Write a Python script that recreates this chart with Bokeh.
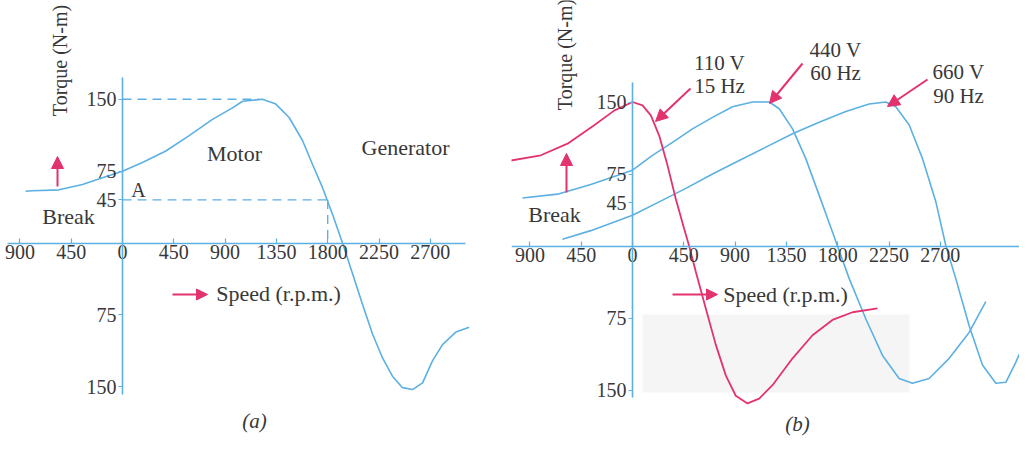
import numpy as np
from bokeh.plotting import figure
from bokeh.layouts import row
from bokeh.models import Range1d, Label, Arrow, NormalHead, FixedTicker, BoxAnnotation
from bokeh.embed import file_html
from bokeh.resources import INLINE

# ---------------- data ----------------
# Panel (a): 440 V, 60 Hz torque-speed curve
speed_a = [-850, -789, -556, -351, -175, 0, 175, 380, 585, 789, 965, 1053, 1228, 1345,
           1462, 1579, 1667, 1754, 1842, 1930, 2018, 2105, 2193, 2281, 2368, 2456, 2544,
           2632, 2719, 2807, 2924, 3041]
torque_a = [54, 54.5, 55.5, 61, 68, 75, 84, 96, 112, 129, 141, 148, 150, 145,
            131, 107, 82, 58, 30, 0, -32, -64, -95, -120, -139, -151, -153,
            -146, -123, -106, -93, -88]
peak_speed_a = 1200
peak_torque_a = 150
point_a_speed = 1800
point_a_torque = 45

# Panel (b): three supply conditions
speed_110 = [-1067, -804, -570, -336, -161, 0, 88, 161, 234, 307, 380, 453, 497, 556, 643,
             731, 819, 906, 1009, 1111, 1228, 1404, 1579, 1754, 1930, 2149]
torque_110 = [89, 94.5, 106.6, 125.7, 141, 150, 146.5, 136, 115, 84, 49, 18, 0, -27, -65,
              -103, -135, -156, -164, -159, -145, -117, -93, -77, -69, -65]

speed_440 = [-965, -658, -366, 0, 175, 351, 526, 702, 877, 1053, 1199, 1287, 1404, 1520,
             1637, 1754, 1798, 1901, 2047, 2193, 2339, 2456, 2602, 2778, 2953, 3099]
torque_440 = [50, 54, 64, 79, 94.4, 108, 122, 134, 145, 150, 150, 143, 122, 91,
              53, 14.6, 0, -34, -76, -114, -138, -143, -138, -117, -90, -58]

speed_660 = [-614, -366, 0, 234, 468, 702, 936, 1170, 1404, 1637, 1871, 2076, 2222, 2310,
             2427, 2544, 2661, 2749, 2836, 2953, 3070, 3187, 3275, 3363, 3465]
torque_660 = [7, 16, 32, 46, 60, 75, 89, 103, 117, 129, 140, 148, 150, 145,
              126, 91, 46, 0, -34, -83, -124, -143, -142, -121, -93]

speed_ticks = [-900, -450, 0, 450, 900, 1350, 1800, 2250, 2700]
speed_tick_labels = ["900", "450", "0", "450", "900", "1350", "1800", "2250", "2700"]
torque_ticks = [150, 75, 45, -75, -150]
torque_tick_labels = ["150", "75", "45", "75", "150"]

# ---------------- styling ----------------
BLUE = "#5cb0e2"
PINK = "#e3336f"
TEXT = "#383838"
FONT = "Liberation Serif"


class Panel:
    def __init__(self, left, width, height, x0, y0, sx, sy):
        self.left, self.width, self.height = left, width, height
        self.x0, self.y0, self.sx, self.sy = x0, y0, sx, sy
        top = 8
        self.p = figure(width=width, height=height, output_backend="svg",
                        toolbar_location=None, min_border=0,
                        x_range=Range1d((left - x0) / sx, (left + width - x0) / sx),
                        y_range=Range1d((y0 - (top + height)) / sy, (y0 - top) / sy),
                        outline_line_color=None)
        self.p.xgrid.visible = False
        self.p.ygrid.visible = False

    def d(self, px, py):
        return (px - self.x0) / self.sx, (self.y0 - py) / self.sy

    def axes(self, xb, yb):
        p = self.p
        for ax in (p.xaxis[0], p.yaxis[0]):
            ax.fixed_location = 0
            ax.axis_line_color = BLUE
            ax.axis_line_width = 1.6
            ax.major_tick_line_color = BLUE
            ax.major_tick_line_width = 1.2
            ax.minor_tick_line_color = None
            ax.major_label_text_font = FONT
            ax.major_label_text_font_size = "20px"
            ax.major_label_text_color = TEXT
        xa, ya = p.xaxis[0], p.yaxis[0]
        xa.ticker = FixedTicker(ticks=speed_ticks)
        xa.major_label_overrides = dict(zip(speed_ticks, speed_tick_labels))
        xa.major_tick_in = 5
        xa.major_tick_out = 0
        xa.major_label_standoff = 2
        xa.bounds = xb
        ya.ticker = FixedTicker(ticks=torque_ticks)
        ya.major_label_overrides = dict(zip(torque_ticks, torque_tick_labels))
        ya.major_tick_in = 0
        ya.major_tick_out = 4
        ya.major_label_standoff = 2
        ya.bounds = yb

    def text(self, px, py, s, size="21px", angle=0.0, style="normal"):
        x, y = self.d(px, py)
        self.p.add_layout(Label(x=x, y=y, text=s, text_align="center", text_baseline="middle",
                                text_font=FONT, text_font_size=size, text_color=TEXT,
                                angle=angle, text_font_style=style))

    def arrow(self, p0, p1, size=12):
        x0, y0 = self.d(*p0)
        x1, y1 = self.d(*p1)
        self.p.add_layout(Arrow(end=NormalHead(size=size, fill_color=PINK, line_color=PINK),
                                x_start=x0, y_start=y0, x_end=x1, y_end=y1,
                                line_color=PINK, line_width=2))


# ---------------- panel (a) ----------------
A = Panel(left=8, width=511, height=438, x0=130, y0=250.5, sx=0.114, sy=0.958)
pa = A.p
A.axes((A.d(15, 0)[0], A.d(473, 0)[0]), (A.d(0, 402)[1], A.d(0, 85)[1]))
pa.line([0, peak_speed_a], [peak_torque_a, peak_torque_a], line_color=BLUE,
        line_width=1.4, line_dash="9 6")
pa.line([0, point_a_speed], [point_a_torque, point_a_torque], line_color=BLUE,
        line_width=1.4, line_dash="9 6")
pa.line([point_a_speed, point_a_speed], [point_a_torque, 0], line_color=BLUE,
        line_width=1.4, line_dash="9 6")
pa.line(speed_a, torque_a, line_color=BLUE, line_width=1.6)

A.text(67, 68, "Torque (N-m)", size="20px", angle=np.pi / 2)
A.arrow((65, 194), (65, 164))
A.text(242, 161, "Motor", size="22px")
A.text(413, 155, "Generator", size="22px")
A.text(76, 224, "Break", size="22px")
A.text(146, 197, "A", size="20px")
A.arrow((180, 302), (215, 302), size=11)
A.text(286, 301, "Speed (r.p.m.)", size="22px")
A.text(262, 428, "(a)", size="21px", style="italic")

# ---------------- panel (b) ----------------
B = Panel(left=519, width=508, height=438, x0=640, y0=253.5, sx=0.114, sy=0.96)
pb = B.p
B.axes((B.d(519, 0)[0], B.d(1027, 0)[0]), (B.d(0, 405)[1], B.d(0, 90)[1]))
bx0, by0 = B.d(650, 400)
bx1, by1 = B.d(917, 322)
pb.add_layout(BoxAnnotation(left=bx0, right=bx1, bottom=by0, top=by1,
                            fill_color="#ececec", fill_alpha=0.55, line_color=None,
                            level="underlay"))
pb.line(speed_440, torque_440, line_color=BLUE, line_width=1.6)
pb.line(speed_660, torque_660, line_color=BLUE, line_width=1.6)
pb.line(speed_110, torque_110, line_color=PINK, line_width=1.8)

B.text(572, 62, "Torque (N-m)", size="20px", angle=np.pi / 2)
B.arrow((574, 200), (574, 161))
B.text(562, 222, "Break", size="22px")
B.text(727, 70, "110 V")
B.text(727, 93, "15 Hz")
B.text(843, 57, "440 V")
B.text(843, 80, "60 Hz")
B.text(966, 79, "660 V")
B.text(966, 103, "90 Hz")
B.arrow((698, 96), (663, 129))
B.arrow((810, 71), (777, 111))
B.arrow((935, 87), (895, 114))
B.arrow((680, 302), (725, 302), size=11)
B.text(793, 302, "Speed (r.p.m.)", size="22px")
B.text(805, 431, "(b)", size="21px", style="italic")

layout = row(pa, pb, spacing=0)
open("out.html", "w").write(file_html(layout, INLINE))
